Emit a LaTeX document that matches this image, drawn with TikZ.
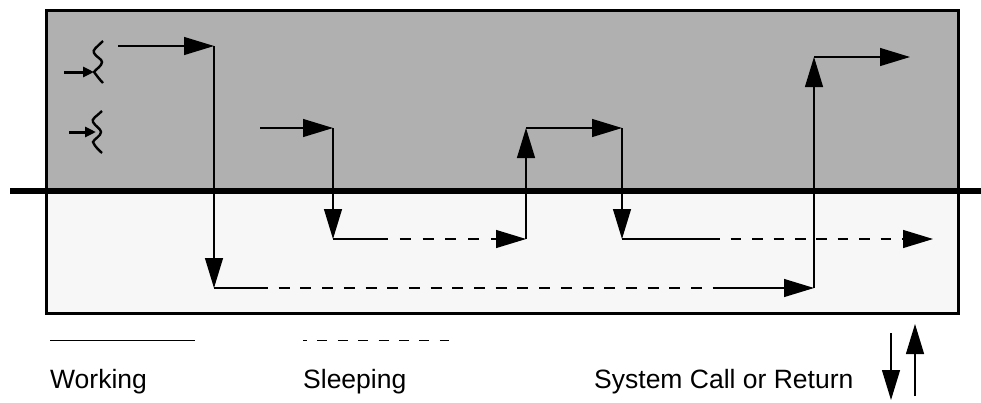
\documentclass[tikz,border=0pt]{standalone}
\usepackage{fontspec}
\setmainfont{Liberation Sans}
\usetikzlibrary{arrows.meta}

\begin{document}
\begin{tikzpicture}[join=miter,x=1pt,y=-1pt]
		\tikzstyle{flow}=[draw, line width=1.2pt]
		\tikzstyle{sleep}=[draw, line width=1.2pt, dash pattern=on 10.7pt off 10.7pt, dash phase=10.7pt]
		\tikzstyle{bigtip}=[-{Triangle[length=30pt,width=18pt]}]
		\tikzstyle{threadin}=[draw, line width=3pt, -{Triangle[length=11pt,width=10pt]}]
		\tikzstyle{wiggle}=[draw, line width=2.4pt]
		\tikzstyle{keytext}=[anchor=base west, inner sep=0pt, font=\fontsize{26.5}{26.5}\selectfont]
		\useasboundingbox (0,0) rectangle (981,402);
		
		\fill[fill=black!31] (46,10) rectangle (958,191);
		\fill[fill=black!3] (46,191) rectangle (958,313);
		\draw[line width=3pt] (46,10) rectangle (958,313);
		
		% kernel boundary
		\coordinate (lineL) at (10,191);
		\coordinate (lineR) at (981,191);
		\draw[line width=6.5pt] (lineL) -- (lineR);
		
		% first thread
		\coordinate (a0) at (118,46);
		\coordinate (a1) at (214,46);
		\coordinate (a2) at (214,288);
		\coordinate (a3) at (268,288);
		\coordinate (a4) at (714,288);
		\coordinate (a5) at (814,288);
		\coordinate (a6) at (814,57);
		\coordinate (a7) at (910,57);
		\draw[flow, bigtip] (a0) -- (a1);
		\draw[flow, bigtip] (a1) -- (a2);
		\draw[flow] (a2) -- (a3);
		\draw[sleep, dash pattern=on 11pt off 10.7pt, dash phase=11pt] (a3) -- (a4);
		\draw[flow, bigtip] (a4) -- (a5);
		\draw[flow, bigtip] (a5) -- (a6);
		\draw[flow, bigtip] (a6) -- (a7);
		
		% second thread
		\coordinate (b0) at (260,128);
		\coordinate (b1) at (333,128);
		\coordinate (b2) at (333,239);
		\coordinate (b3) at (388,239);
		\coordinate (b4) at (526,239);
		\coordinate (b5) at (526,128);
		\coordinate (b6) at (622,128);
		\coordinate (b7) at (622,239);
		\coordinate (b8) at (720,239);
		\coordinate (b9) at (933,239);
		\draw[flow, bigtip] (b0) -- (b1);
		\draw[flow, bigtip] (b1) -- (b2);
		\draw[flow] (b2) -- (b3);
		\draw[sleep, dash pattern=on 11pt off 11.8pt, dash phase=11pt, bigtip] (b3) -- (b4);
		\draw[flow, bigtip] (b4) -- (b5);
		\draw[flow, bigtip] (b5) -- (b6);
		\draw[flow, bigtip] (b6) -- (b7);
		\draw[flow] (b7) -- (b8);
		\draw[sleep, bigtip] (b8) -- (b9);
		
		% thread symbols
		\draw[wiggle] (103,41) .. controls (97,47) and (92,50) .. (94,53) .. controls (96,57) and (102,59) .. (102,62) .. controls (102,66) and (96,69) .. (94,72) .. controls (97,76) and (100,80) .. (103,83);
		\draw[wiggle] (102,111) .. controls (97,116) and (91,119) .. (93,122) .. controls (95,126) and (101,129) .. (101,132) .. controls (101,136) and (94,139) .. (93,142) .. controls (95,147) and (99,150) .. (102,153);
		\coordinate (t1s) at (64,72);
		\coordinate (t1e) at (94,72);
		\coordinate (t2s) at (69,132);
		\coordinate (t2e) at (96,132);
		\draw[threadin] (t1s) -- (t1e);
		\draw[threadin] (t2s) -- (t2e);
		
		% legend
		\coordinate (k1) at (50,340);
		\coordinate (k2) at (195,340);
		\coordinate (k3) at (303,340);
		\coordinate (k4) at (449,340);
		\draw[line width=1pt] (k1) -- (k2);
		\draw[line width=1pt, dash pattern=on 10pt off 10.4pt, dash phase=6pt] (k3) -- (k4);
		\node[keytext] (working) at (50,388) {Working};
		\node[keytext] (sleeping) at (303,388) {Sleeping};
		\node[keytext] (syscall) at (594,388) {System Call or Return};
		
		\coordinate (d1) at (891,333);
		\coordinate (d2) at (891,400);
		\coordinate (u1) at (915,396);
		\coordinate (u2) at (915,324);
		\draw[flow, bigtip] (d1) -- (d2);
		\draw[flow, bigtip] (u1) -- (u2);
	\end{tikzpicture}
\end{document}
